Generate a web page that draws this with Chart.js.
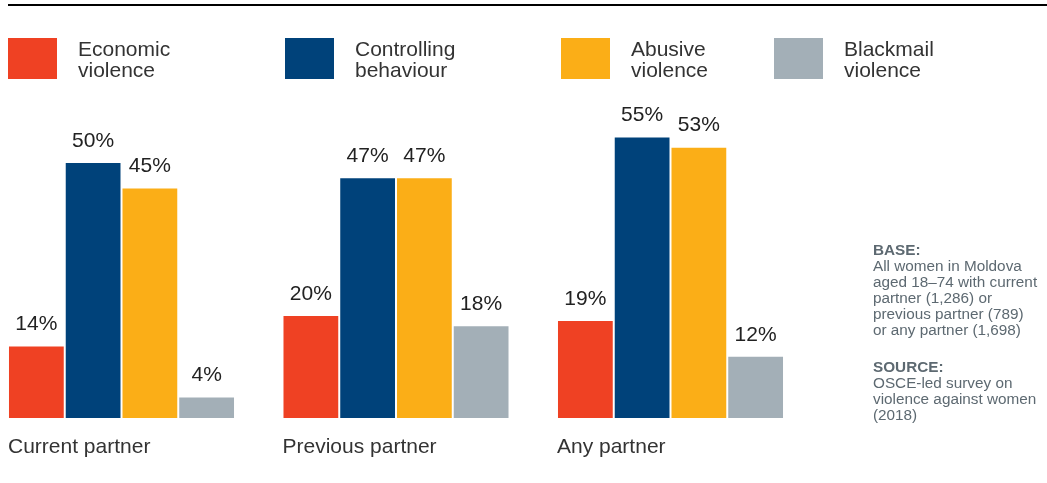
<!DOCTYPE html>
<html>
<head>
<meta charset="utf-8">
<script src="https://cdn.jsdelivr.net/npm/chart.js@4/dist/chart.umd.min.js"></script>
<style>
  html, body { margin: 0; padding: 0; background: #fff; }
  #wrap { position: relative; width: 1047px; height: 483px; }
</style>
</head>
<body>
<div id="wrap"><canvas id="chart" width="1047" height="483"></canvas></div>
<script>
// Data
const categories = ['Current partner', 'Previous partner', 'Any partner'];
const seriesNames = [['Economic', 'violence'], ['Controlling', 'behaviour'], ['Abusive', 'violence'], ['Blackmail', 'violence']];
const economic = [14, 20, 19];
const controlling = [50, 47, 55];
const abusive = [45, 47, 53];
const blackmail = [4, 18, 12];
const colors = ['#EF4123', '#00427A', '#FBAE17', '#A3AFB7'];

const baseNote = ['All women in Moldova', 'aged 18\u201374 with current', 'partner (1,286) or', 'previous partner (789)', 'or any partner (1,698)'];
const sourceNote = ['OSCE-led survey on', 'violence against women', '(2018)'];

const FONT = '"Liberation Sans", Arial, sans-serif';
const catPct = 0.827;

// top rule, legend, category labels, value labels and side notes
const decorations = {
  id: 'decorations',
  afterDatasetsDraw(chart) {
    const ctx = chart.ctx;
    const x = chart.scales.x;
    ctx.save();

    // top rule
    ctx.fillStyle = '#000';
    ctx.fillRect(8, 4, 1039, 2);

    // legend
    const legendX = [8, 285, 561, 774];
    ctx.font = '21px ' + FONT;
    ctx.textBaseline = 'middle';
    ctx.textAlign = 'left';
    seriesNames.forEach((name, i) => {
      ctx.fillStyle = colors[i];
      ctx.fillRect(legendX[i], 38, 49, 41);
      ctx.fillStyle = '#333';
      ctx.fillText(name[0], legendX[i] + 70, 50);
      ctx.fillText(name[1], legendX[i] + 70, 71);
    });

    // value labels above bars
    ctx.font = '21px ' + FONT;
    ctx.fillStyle = '#222';
    ctx.textAlign = 'center';
    chart.data.datasets.forEach((ds, di) => {
      chart.getDatasetMeta(di).data.forEach((bar, i) => {
        ctx.fillText(ds.data[i] + '%', bar.x, bar.y - 22);
      });
    });

    // category labels, left aligned under each group
    const spacing = x.getPixelForValue(1) - x.getPixelForValue(0);
    ctx.font = '21px ' + FONT;
    ctx.fillStyle = '#333';
    ctx.textAlign = 'left';
    categories.forEach((c, i) => {
      ctx.fillText(c, x.getPixelForValue(i) - spacing * catPct / 2, 447);
    });

    // side notes
    ctx.fillStyle = '#5d6971';
    ctx.font = 'bold 15.3px ' + FONT;
    ctx.fillText('BASE:', 873, 251);
    ctx.font = '15.3px ' + FONT;
    baseNote.forEach((t, i) => ctx.fillText(t, 873, 267 + i * 16));
    ctx.font = 'bold 15.3px ' + FONT;
    ctx.fillText('SOURCE:', 873, 368);
    ctx.font = '15.3px ' + FONT;
    sourceNote.forEach((t, i) => ctx.fillText(t, 873, 384 + i * 16));

    ctx.restore();
  }
};

const series = [economic, controlling, abusive, blackmail];

new Chart(document.getElementById('chart'), {
  type: 'bar',
  data: {
    labels: categories,
    datasets: series.map((d, i) => ({
      label: seriesNames[i].join(' '),
      data: d,
      backgroundColor: colors[i],
      borderWidth: 0,
      clip: false,
      categoryPercentage: catPct,
      barPercentage: 0.965
    }))
  },
  options: {
    responsive: false,
    animation: false,
    layout: { padding: { left: 121.5, right: 376.5, top: 112, bottom: 65 } },
    plugins: { legend: { display: false }, tooltip: { enabled: false } },
    scales: {
      x: { display: false, offset: false },
      y: { display: false, min: 0, max: 60 }
    }
  },
  plugins: [decorations]
});
</script>
</body>
</html>
